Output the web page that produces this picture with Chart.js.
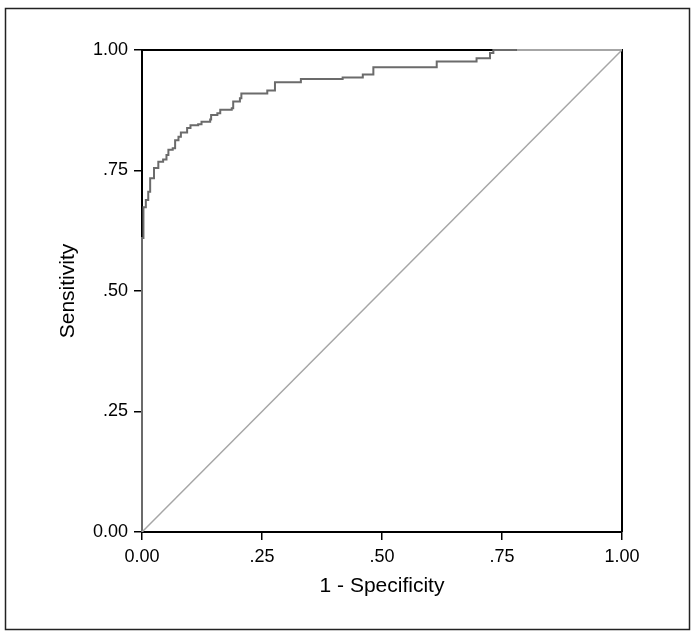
<!DOCTYPE html>
<html>
<head>
<meta charset="utf-8">
<script src="https://cdn.jsdelivr.net/npm/chart.js@4"></script>
<style>
  body { margin: 0; background: #fff; }
  #wrap { width: 699px; height: 638px; }
</style>
</head>
<body>
<div id="wrap"><canvas id="rocChart"></canvas></div>
<script>
"use strict";

// ROC curve (step corners)
const fpr = [0, 0, 0.003, 0.008, 0.013, 0.017, 0.025, 0.034, 0.044, 0.051, 0.055,
  0.064, 0.069, 0.076, 0.081, 0.094, 0.101, 0.117, 0.124, 0.142, 0.144, 0.157,
  0.163, 0.187, 0.190, 0.204, 0.207, 0.261, 0.277, 0.331, 0.418, 0.460, 0.482,
  0.614, 0.697, 0.725, 0.732, 0.781, 1];
const tpr = [0, 0.61, 0.674, 0.689, 0.706, 0.734, 0.755, 0.768, 0.773, 0.782, 0.793,
  0.796, 0.813, 0.820, 0.829, 0.838, 0.844, 0.846, 0.851, 0.856, 0.865, 0.869,
  0.876, 0.879, 0.893, 0.900, 0.910, 0.916, 0.933, 0.940, 0.943, 0.949, 0.964,
  0.976, 0.983, 0.994, 1, 1, 1];

// reference diagonal
const refX = [0, 1];
const refY = [0, 1];

const tickValues = [0, 0.25, 0.5, 0.75, 1];
const tickLabels = ["0.00", ".25", ".50", ".75", "1.00"];

const curveColor = "#6b6b6b";
const refColor = "#a6a6a6";
const fontFamily = "'Liberation Sans', Arial, sans-serif";

const toPoints = (xs, ys) => xs.map((x, i) => ({ x: x, y: ys[i] }));
const fmtTick = (value) => tickLabels[tickValues.indexOf(value)];
const setTicks = (scale) => {
  scale.ticks = tickValues.map((v) => ({ value: v }));
};

const framePlugin = {
  id: "frame",
  beforeDatasetsDraw(chart) {
    const { ctx, chartArea: a } = chart;
    ctx.save();
    ctx.strokeStyle = "#000";
    ctx.lineWidth = 2;
    ctx.beginPath();
    ctx.moveTo(a.left, a.top);
    ctx.lineTo(a.right, a.top);
    ctx.lineTo(a.right, a.bottom);
    ctx.stroke();
    ctx.restore();
  },
  afterDraw(chart) {
    const ctx = chart.ctx;
    ctx.save();
    ctx.strokeStyle = "#222";
    ctx.lineWidth = 1.5;
    ctx.strokeRect(5.5, 8.5, 684, 621);
    ctx.restore();
  },
};

const rocCtx = document.getElementById("rocChart").getContext("2d");

new Chart(rocCtx, {
  type: "line",
  data: {
    datasets: [
      {
        data: toPoints(refX, refY),
        borderColor: refColor,
        borderWidth: 1.5,
        pointRadius: 0,
      },
      {
        data: toPoints(fpr, tpr),
        borderColor: curveColor,
        borderWidth: 2,
        pointRadius: 0,
        stepped: true,
        clip: 3,
        segment: {
          borderColor: (c) => (c.p0.parsed.x >= 0.78 ? refColor : curveColor),
        },
      },
    ],
  },
  options: {
    responsive: true,
    maintainAspectRatio: false,
    animation: false,
    layout: { padding: { top: 50, right: 77, bottom: 0, left: 0 } },
    plugins: {
      legend: { display: false },
      tooltip: { enabled: false },
    },
    scales: {
      x: {
        type: "linear",
        min: 0,
        max: 1,
        afterBuildTicks: setTicks,
        afterFit: (s) => { s.height = 106; },
        grid: { drawOnChartArea: false, tickLength: 8, color: "#000", lineWidth: 1.5 },
        border: { color: "#000", width: 2 },
        ticks: {
          callback: fmtTick,
          padding: 6,
          color: "#000",
          maxRotation: 0,
          font: { family: fontFamily, size: 18 },
        },
        title: {
          display: true,
          text: "1 - Specificity",
          color: "#000",
          font: { family: fontFamily, size: 21 },
          padding: { top: 0, bottom: 39 },
        },
      },
      y: {
        type: "linear",
        min: 0,
        max: 1,
        z: 1,
        afterBuildTicks: setTicks,
        afterFit: (s) => { s.width = 142; },
        grid: { drawOnChartArea: false, tickLength: 8, color: "#000", lineWidth: 1.5 },
        border: { color: "#000", width: 2 },
        ticks: {
          callback: fmtTick,
          padding: 6,
          color: "#000",
          font: { family: fontFamily, size: 18 },
        },
        title: {
          display: true,
          text: "Sensitivity",
          color: "#000",
          font: { family: fontFamily, size: 21 },
          padding: { top: 56, bottom: 0 },
        },
      },
    },
  },
  plugins: [framePlugin],
});
</script>
</body>
</html>
